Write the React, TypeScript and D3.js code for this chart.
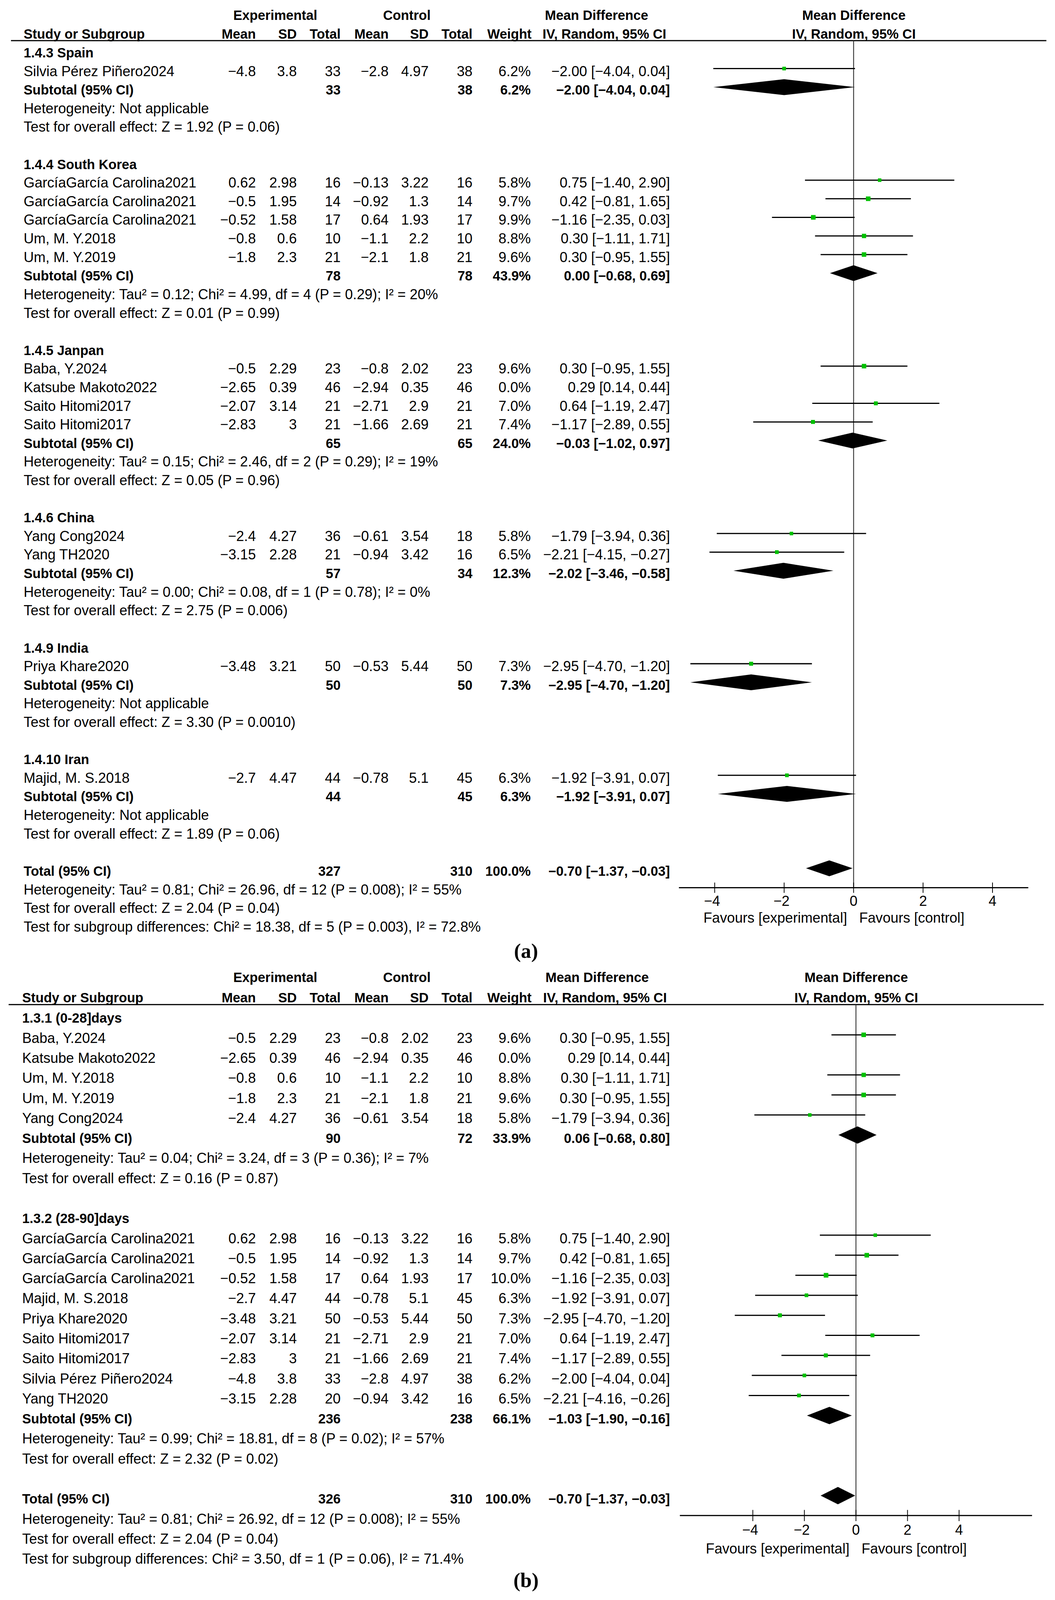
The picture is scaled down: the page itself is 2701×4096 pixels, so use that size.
import * as d3 from "d3";

// name, exp mean, exp SD, exp total, ctl mean, ctl SD, ctl total, weight %, MD, lower, upper
type Study = [string, number, number, number, number, number, number, number, number, number, number];
// exp total, ctl total, weight %, MD, lower, upper
type Summary = [number, number, number, number, number, number];

const spainStudies: Study[] = [
  ["Silvia Pérez Piñero2024", -4.8, 3.8, 33, -2.8, 4.97, 38, 6.2, -2.0, -4.04, 0.04],
];
const koreaStudies: Study[] = [
  ["GarcíaGarcía Carolina2021", 0.62, 2.98, 16, -0.13, 3.22, 16, 5.8, 0.75, -1.4, 2.9],
  ["GarcíaGarcía Carolina2021", -0.5, 1.95, 14, -0.92, 1.3, 14, 9.7, 0.42, -0.81, 1.65],
  ["GarcíaGarcía Carolina2021", -0.52, 1.58, 17, 0.64, 1.93, 17, 9.9, -1.16, -2.35, 0.03],
  ["Um, M. Y.2018", -0.8, 0.6, 10, -1.1, 2.2, 10, 8.8, 0.3, -1.11, 1.71],
  ["Um, M. Y.2019", -1.8, 2.3, 21, -2.1, 1.8, 21, 9.6, 0.3, -0.95, 1.55],
];
const japanStudies: Study[] = [
  ["Baba, Y.2024", -0.5, 2.29, 23, -0.8, 2.02, 23, 9.6, 0.3, -0.95, 1.55],
  ["Katsube Makoto2022", -2.65, 0.39, 46, -2.94, 0.35, 46, 0.0, 0.29, 0.14, 0.44],
  ["Saito Hitomi2017", -2.07, 3.14, 21, -2.71, 2.9, 21, 7.0, 0.64, -1.19, 2.47],
  ["Saito Hitomi2017", -2.83, 3, 21, -1.66, 2.69, 21, 7.4, -1.17, -2.89, 0.55],
];
const chinaStudies: Study[] = [
  ["Yang Cong2024", -2.4, 4.27, 36, -0.61, 3.54, 18, 5.8, -1.79, -3.94, 0.36],
  ["Yang TH2020", -3.15, 2.28, 21, -0.94, 3.42, 16, 6.5, -2.21, -4.15, -0.27],
];
const indiaStudies: Study[] = [
  ["Priya Khare2020", -3.48, 3.21, 50, -0.53, 5.44, 50, 7.3, -2.95, -4.7, -1.2],
];
const iranStudies: Study[] = [
  ["Majid, M. S.2018", -2.7, 4.47, 44, -0.78, 5.1, 45, 6.3, -1.92, -3.91, 0.07],
];

const spainSummary: Summary = [33, 38, 6.2, -2.0, -4.04, 0.04];
const koreaSummary: Summary = [78, 78, 43.9, 0.0, -0.68, 0.69];
const japanSummary: Summary = [65, 65, 24.0, -0.03, -1.02, 0.97];
const chinaSummary: Summary = [57, 34, 12.3, -2.02, -3.46, -0.58];
const indiaSummary: Summary = [50, 50, 7.3, -2.95, -4.7, -1.2];
const iranSummary: Summary = [44, 45, 6.3, -1.92, -3.91, 0.07];
const totalSummaryA: Summary = [327, 310, 100.0, -0.7, -1.37, -0.03];

const days28Studies: Study[] = [
  ["Baba, Y.2024", -0.5, 2.29, 23, -0.8, 2.02, 23, 9.6, 0.3, -0.95, 1.55],
  ["Katsube Makoto2022", -2.65, 0.39, 46, -2.94, 0.35, 46, 0.0, 0.29, 0.14, 0.44],
  ["Um, M. Y.2018", -0.8, 0.6, 10, -1.1, 2.2, 10, 8.8, 0.3, -1.11, 1.71],
  ["Um, M. Y.2019", -1.8, 2.3, 21, -2.1, 1.8, 21, 9.6, 0.3, -0.95, 1.55],
  ["Yang Cong2024", -2.4, 4.27, 36, -0.61, 3.54, 18, 5.8, -1.79, -3.94, 0.36],
];
const days90Studies: Study[] = [
  ["GarcíaGarcía Carolina2021", 0.62, 2.98, 16, -0.13, 3.22, 16, 5.8, 0.75, -1.4, 2.9],
  ["GarcíaGarcía Carolina2021", -0.5, 1.95, 14, -0.92, 1.3, 14, 9.7, 0.42, -0.81, 1.65],
  ["GarcíaGarcía Carolina2021", -0.52, 1.58, 17, 0.64, 1.93, 17, 10.0, -1.16, -2.35, 0.03],
  ["Majid, M. S.2018", -2.7, 4.47, 44, -0.78, 5.1, 45, 6.3, -1.92, -3.91, 0.07],
  ["Priya Khare2020", -3.48, 3.21, 50, -0.53, 5.44, 50, 7.3, -2.95, -4.7, -1.2],
  ["Saito Hitomi2017", -2.07, 3.14, 21, -2.71, 2.9, 21, 7.0, 0.64, -1.19, 2.47],
  ["Saito Hitomi2017", -2.83, 3, 21, -1.66, 2.69, 21, 7.4, -1.17, -2.89, 0.55],
  ["Silvia Pérez Piñero2024", -4.8, 3.8, 33, -2.8, 4.97, 38, 6.2, -2.0, -4.04, 0.04],
  ["Yang TH2020", -3.15, 2.28, 20, -0.94, 3.42, 16, 6.5, -2.21, -4.16, -0.26],
];
const days28Summary: Summary = [90, 72, 33.9, 0.06, -0.68, 0.8];
const days90Summary: Summary = [236, 238, 66.1, -1.03, -1.9, -0.16];
const totalSummaryB: Summary = [326, 310, 100.0, -0.7, -1.37, -0.03];

const notesA = [
  "Heterogeneity: Tau² = 0.81; Chi² = 26.96, df = 12 (P = 0.008); I² = 55%",
  "Test for overall effect: Z = 2.04 (P = 0.04)",
  "Test for subgroup differences: Chi² = 18.38, df = 5 (P = 0.003), I² = 72.8%",
];
const notesB = [
  "Heterogeneity: Tau² = 0.81; Chi² = 26.92, df = 12 (P = 0.008); I² = 55%",
  "Test for overall effect: Z = 2.04 (P = 0.04)",
  "Test for subgroup differences: Chi² = 3.50, df = 1 (P = 0.06), I² = 71.4%",
];

const axisTicks = [-4, -2, 0, 2, 4];

interface Group {
  title: string;
  studies: Study[];
  summary: Summary;
  het: string;
  test: string;
}

const groupsA: Group[] = [
  { title: "1.4.3 Spain", studies: spainStudies, summary: spainSummary, het: "Heterogeneity: Not applicable", test: "Test for overall effect: Z = 1.92 (P = 0.06)" },
  { title: "1.4.4 South Korea", studies: koreaStudies, summary: koreaSummary, het: "Heterogeneity: Tau² = 0.12; Chi² = 4.99, df = 4 (P = 0.29); I² = 20%", test: "Test for overall effect: Z = 0.01 (P = 0.99)" },
  { title: "1.4.5 Janpan", studies: japanStudies, summary: japanSummary, het: "Heterogeneity: Tau² = 0.15; Chi² = 2.46, df = 2 (P = 0.29); I² = 19%", test: "Test for overall effect: Z = 0.05 (P = 0.96)" },
  { title: "1.4.6 China", studies: chinaStudies, summary: chinaSummary, het: "Heterogeneity: Tau² = 0.00; Chi² = 0.08, df = 1 (P = 0.78); I² = 0%", test: "Test for overall effect: Z = 2.75 (P = 0.006)" },
  { title: "1.4.9 India", studies: indiaStudies, summary: indiaSummary, het: "Heterogeneity: Not applicable", test: "Test for overall effect: Z = 3.30 (P = 0.0010)" },
  { title: "1.4.10 Iran", studies: iranStudies, summary: iranSummary, het: "Heterogeneity: Not applicable", test: "Test for overall effect: Z = 1.89 (P = 0.06)" },
];
const groupsB: Group[] = [
  { title: "1.3.1 (0-28]days", studies: days28Studies, summary: days28Summary, het: "Heterogeneity: Tau² = 0.04; Chi² = 3.24, df = 3 (P = 0.36); I² = 7%", test: "Test for overall effect: Z = 0.16 (P = 0.87)" },
  { title: "1.3.2 (28-90]days", studies: days90Studies, summary: days90Summary, het: "Heterogeneity: Tau² = 0.99; Chi² = 18.81, df = 8 (P = 0.02); I² = 57%", test: "Test for overall effect: Z = 2.32 (P = 0.02)" },
];

// layout in reference pixels, scaled at the end
const W = 3584;
const H = 5436;
const SCALE = 2701 / W;
const FONT = "'Liberation Sans', Arial, Helvetica, sans-serif";
const FS = 48;
const FSB = 45.5;
const COL = { m1: 869, sd1: 1008, n1: 1157, m2: 1320, sd2: 1456, n2: 1605, w: 1803, ci: 2276 };

interface Layout {
  head1: number;
  head2: number;
  lineY: number;
  lineX0: number;
  lineX1: number;
  row0: number;
  dy: number;
  textX: number;
  zero: number;
  unit: number;
  axisMin: number;
  axisMax: number;
  axisY: number;
  tickLen: number;
  tickLabelY: number;
  favY: number;
  diamondH: number;
  mdLeft: number;
  ivLeft: number;
  label: string;
  labelY: number;
}

const layoutA: Layout = {
  head1: 68, head2: 132, lineY: 138, lineX0: 37, lineX1: 3555, row0: 195, dy: 63.19, textX: 80,
  zero: 2900, unit: 118, axisMin: -5.03, axisMax: 5.03, axisY: 3016, tickLen: 17.5, tickLabelY: 3077,
  favY: 3135, diamondH: 27, mdLeft: 1851, ivLeft: 1843, label: "(a)", labelY: 3254,
};
const layoutB: Layout = {
  head1: 3337, head2: 3405, lineY: 3413, lineX0: 29, lineX1: 3546, row0: 3475, dy: 68.07, textX: 75,
  zero: 2908, unit: 87.6, axisMin: -6.83, axisMax: 6.83, axisY: 5149, tickLen: 19, tickLabelY: 5215,
  favY: 5278, diamondH: 29.5, mdLeft: 1853, ivLeft: 1845, label: "(b)", labelY: 5392,
};

const num = (v: number) => String(v).replace("-", "−");
const f2 = (v: number) => v.toFixed(2).replace("-", "−");
const ciText = (md: number, lo: number, hi: number) => `${f2(md)} [${f2(lo)}, ${f2(hi)}]`;

function T({ x, y, children, anchor = "start", bold = false }: { x: number; y: number; children: React.ReactNode; anchor?: string; bold?: boolean }) {
  return (
    <text x={x} y={y} textAnchor={anchor} fontWeight={bold ? "bold" : "normal"} fontSize={bold ? FSB : FS}>
      {children}
    </text>
  );
}

function ForestPanel({ groups, total, notes, L }: { groups: Group[]; total: Summary; notes: string[]; L: Layout }) {
  const x = d3.scaleLinear().domain([0, 1]).range([L.zero, L.zero + L.unit]);
  const rowY = (k: number) => L.row0 + k * L.dy;
  const markY = (k: number) => rowY(k) - 0.4 * L.dy;

  const texts: React.ReactNode[] = [];
  const marks: React.ReactNode[] = [];
  let k = 0;

  const diamond = (s: Summary, kk: number, key: string) => {
    const cy = markY(kk);
    const pts: [number, number][] = [
      [x(s[4]), cy],
      [x(s[3]), cy - L.diamondH],
      [x(s[5]), cy],
      [x(s[3]), cy + L.diamondH],
    ];
    return <path key={key} d={(d3.line()(pts) ?? "") + "Z"} fill="#000" />;
  };

  const summaryRow = (label: string, s: Summary, kk: number, key: string) => {
    const y = rowY(kk);
    texts.push(
      <g key={key}>
        <T x={L.textX} y={y} bold>{label}</T>
        <T x={COL.n1} y={y} anchor="end" bold>{s[0]}</T>
        <T x={COL.n2} y={y} anchor="end" bold>{s[1]}</T>
        <T x={COL.w} y={y} anchor="end" bold>{s[2].toFixed(1)}%</T>
        <T x={COL.ci} y={y} anchor="end" bold>{ciText(s[3], s[4], s[5])}</T>
      </g>,
    );
    marks.push(diamond(s, kk, key + "d"));
  };

  groups.forEach((g, gi) => {
    texts.push(<T key={`t${gi}`} x={L.textX} y={rowY(k++)} bold>{g.title}</T>);
    g.studies.forEach((s, si) => {
      const y = rowY(k);
      const key = `s${gi}-${si}`;
      texts.push(
        <g key={key}>
          <T x={L.textX} y={y}>{s[0]}</T>
          <T x={COL.m1} y={y} anchor="end">{num(s[1])}</T>
          <T x={COL.sd1} y={y} anchor="end">{num(s[2])}</T>
          <T x={COL.n1} y={y} anchor="end">{s[3]}</T>
          <T x={COL.m2} y={y} anchor="end">{num(s[4])}</T>
          <T x={COL.sd2} y={y} anchor="end">{num(s[5])}</T>
          <T x={COL.n2} y={y} anchor="end">{s[6]}</T>
          <T x={COL.w} y={y} anchor="end">{s[7].toFixed(1)}%</T>
          <T x={COL.ci} y={y} anchor="end">{ciText(s[8], s[9], s[10])}</T>
        </g>,
      );
      if (s[7] > 0) {
        const my = markY(k);
        const size = 5 * Math.sqrt(s[7]);
        marks.push(
          <g key={key}>
            <line x1={x(s[9])} x2={x(s[10])} y1={my} y2={my} stroke="#000" strokeWidth={4} />
            <rect x={x(s[8]) - size / 2} y={my - size / 2} width={size} height={size} fill="#00c000" />
          </g>,
        );
      }
      k++;
    });
    summaryRow("Subtotal (95% CI)", g.summary, k++, `sub${gi}`);
    texts.push(<T key={`h${gi}`} x={L.textX} y={rowY(k++)}>{g.het}</T>);
    texts.push(<T key={`o${gi}`} x={L.textX} y={rowY(k++)}>{g.test}</T>);
    k++;
  });
  summaryRow("Total (95% CI)", total, k++, "total");
  notes.forEach((n, i) => texts.push(<T key={`n${i}`} x={L.textX} y={rowY(k++)}>{n}</T>));

  return (
    <g fontFamily={FONT} fill="#000">
      {/* headers */}
      <T x={935} y={L.head1} anchor="middle" bold>Experimental</T>
      <T x={1382} y={L.head1} anchor="middle" bold>Control</T>
      <T x={L.mdLeft} y={L.head1} bold>Mean Difference</T>
      <T x={L.zero + 1} y={L.head1} anchor="middle" bold>Mean Difference</T>
      <T x={L.textX} y={L.head2} bold>Study or Subgroup</T>
      <T x={COL.m1} y={L.head2} anchor="end" bold>Mean</T>
      <T x={COL.sd1} y={L.head2} anchor="end" bold>SD</T>
      <T x={COL.n1} y={L.head2} anchor="end" bold>Total</T>
      <T x={COL.m2} y={L.head2} anchor="end" bold>Mean</T>
      <T x={COL.sd2} y={L.head2} anchor="end" bold>SD</T>
      <T x={COL.n2} y={L.head2} anchor="end" bold>Total</T>
      <T x={COL.w + 3} y={L.head2} anchor="end" bold>Weight</T>
      <T x={L.ivLeft} y={L.head2} bold>IV, Random, 95% CI</T>
      <T x={L.zero + 1} y={L.head2} anchor="middle" bold>IV, Random, 95% CI</T>
      <line x1={L.lineX0} x2={L.lineX1} y1={L.lineY} y2={L.lineY} stroke="#000" strokeWidth={4} />

      {/* line of no effect */}
      <line x1={x(0)} x2={x(0)} y1={L.lineY} y2={L.axisY} stroke="#333" strokeWidth={3} />

      {texts}
      {marks}

      {/* axis */}
      <line x1={x(L.axisMin)} x2={x(L.axisMax)} y1={L.axisY} y2={L.axisY} stroke="#000" strokeWidth={4} />
      {axisTicks.map((t) => (
        <g key={t}>
          <line x1={x(t)} x2={x(t)} y1={L.axisY - L.tickLen} y2={L.axisY + L.tickLen} stroke="#000" strokeWidth={2.6} />
          <T x={x(t) - (t < 0 ? 9 : 0)} y={L.tickLabelY} anchor="middle">{num(t)}</T>
        </g>
      ))}
      <T x={x(0) - 22} y={L.favY} anchor="end">Favours [experimental]</T>
      <T x={x(0) + 19} y={L.favY}>Favours [control]</T>

      <text x={1787} y={L.labelY} textAnchor="middle" fontFamily="'Liberation Serif', 'Times New Roman', serif" fontWeight="bold" fontSize={70}>
        {L.label}
      </text>
    </g>
  );
}

export default function App() {
  return (
    <svg
      width={2701}
      height={4096}
      viewBox={`0 0 ${W * SCALE} ${H * SCALE}`}
      style={{ position: "absolute", left: 0, top: 0, background: "#fff" }}
    >
      <rect width={2701} height={4096} fill="#fff" />
      <g transform={`scale(${SCALE})`}>
        <ForestPanel groups={groupsA} total={totalSummaryA} notes={notesA} L={layoutA} />
        <ForestPanel groups={groupsB} total={totalSummaryB} notes={notesB} L={layoutB} />
      </g>
    </svg>
  );
}
